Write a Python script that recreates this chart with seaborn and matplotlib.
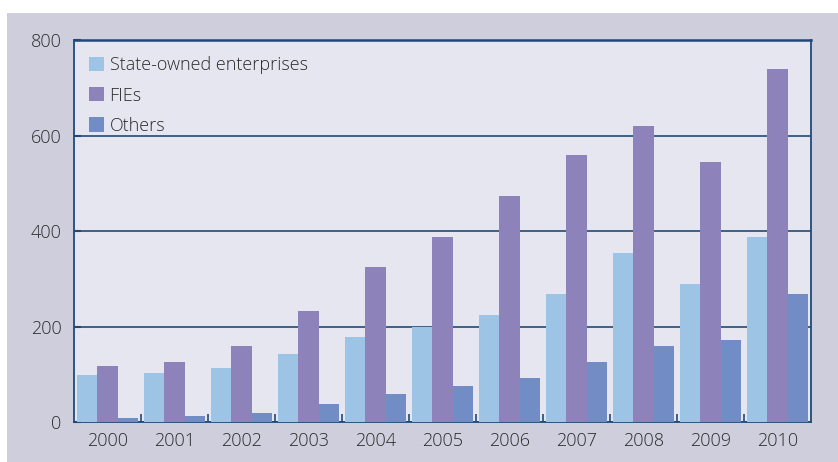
import numpy as np
import pandas as pd
import matplotlib
matplotlib.use("Agg")
import matplotlib.pyplot as plt
from matplotlib.patches import Rectangle, Patch
from matplotlib.ticker import MultipleLocator
import seaborn as sns

years = ["2000", "2001", "2002", "2003", "2004", "2005",
         "2006", "2007", "2008", "2009", "2010"]
state_owned = [99, 103, 114, 143, 177, 200, 225, 269, 354, 290, 388]
fies = [118, 126, 160, 233, 325, 388, 474, 560, 620, 545, 740]
others = [9, 13, 19, 38, 59, 76, 93, 126, 160, 172, 269]
series_names = ["State-owned enterprises", "FIEs", "Others"]
series_colors = ["#9dc4e5", "#8e82bb", "#728cc6"]

df = pd.DataFrame({
    "Year": years * 3,
    "Value": state_owned + fies + others,
    "Type": np.repeat(series_names, len(years)),
})

navy = "#1f4a78"
text_color = "#2b2b2b"

sns.set_theme(style="white")
plt.rcParams["font.family"] = ["Open Sans", "DejaVu Sans"]
plt.rcParams["font.weight"] = "light"

fig = plt.figure(figsize=(8.38, 4.62), dpi=100, facecolor="white")
# grey panel behind the chart
fig.patches.append(Rectangle((7 / 838, 0), 1 - 7 / 838, 1 - 13 / 462,
                             transform=fig.transFigure, facecolor="#cfcedc",
                             edgecolor="none", zorder=-5))

ax = fig.add_axes([74 / 838, 40 / 462, 737 / 838, 382 / 462])
ax.set_zorder(2)
ax.set_facecolor("#e6e6f0")

sns.barplot(data=df, x="Year", y="Value", hue="Type", palette=series_colors,
            width=0.9, saturation=1, gap=0, linewidth=0, ax=ax,
            legend=False, zorder=3)

ax.set_ylim(0, 800)
ax.set_xlim(-0.5, len(years) - 0.5)
ax.yaxis.set_major_locator(MultipleLocator(200))
ax.grid(axis="y", color=navy, linewidth=1.2, zorder=1)
ax.set_axisbelow(True)

for side in ["left", "right", "top", "bottom"]:
    ax.spines[side].set_visible(True)
    ax.spines[side].set_color(navy)
    ax.spines[side].set_linewidth(1.3)
ax.spines["top"].set_linewidth(1.8)

ax.set_xlabel("")
ax.set_ylabel("")
ax.set_xticks(range(len(years)))
ax.set_xticks(np.arange(0.5, len(years) - 0.5, 1), minor=True)
ax.tick_params(axis="x", which="major", length=0, pad=7,
               labelsize=13, labelcolor=text_color)
ax.tick_params(axis="x", which="minor", bottom=True, direction="in",
               length=6, width=1.2, color=navy)
ax.tick_params(axis="y", which="major", left=True, direction="in",
               length=5, width=1.5, color=navy, pad=9,
               labelsize=13, labelcolor=text_color)

handles = [Patch(facecolor=c, edgecolor="none") for c in series_colors]
ax.legend(handles, series_names, loc="upper left", frameon=False,
          fontsize=13, labelcolor=text_color, handlelength=0.85,
          handleheight=0.85, handletextpad=0.3, labelspacing=0.68,
          borderaxespad=0.5, bbox_to_anchor=(-0.002, 1.0))

fig.savefig("out.png", dpi=100, facecolor="white")
